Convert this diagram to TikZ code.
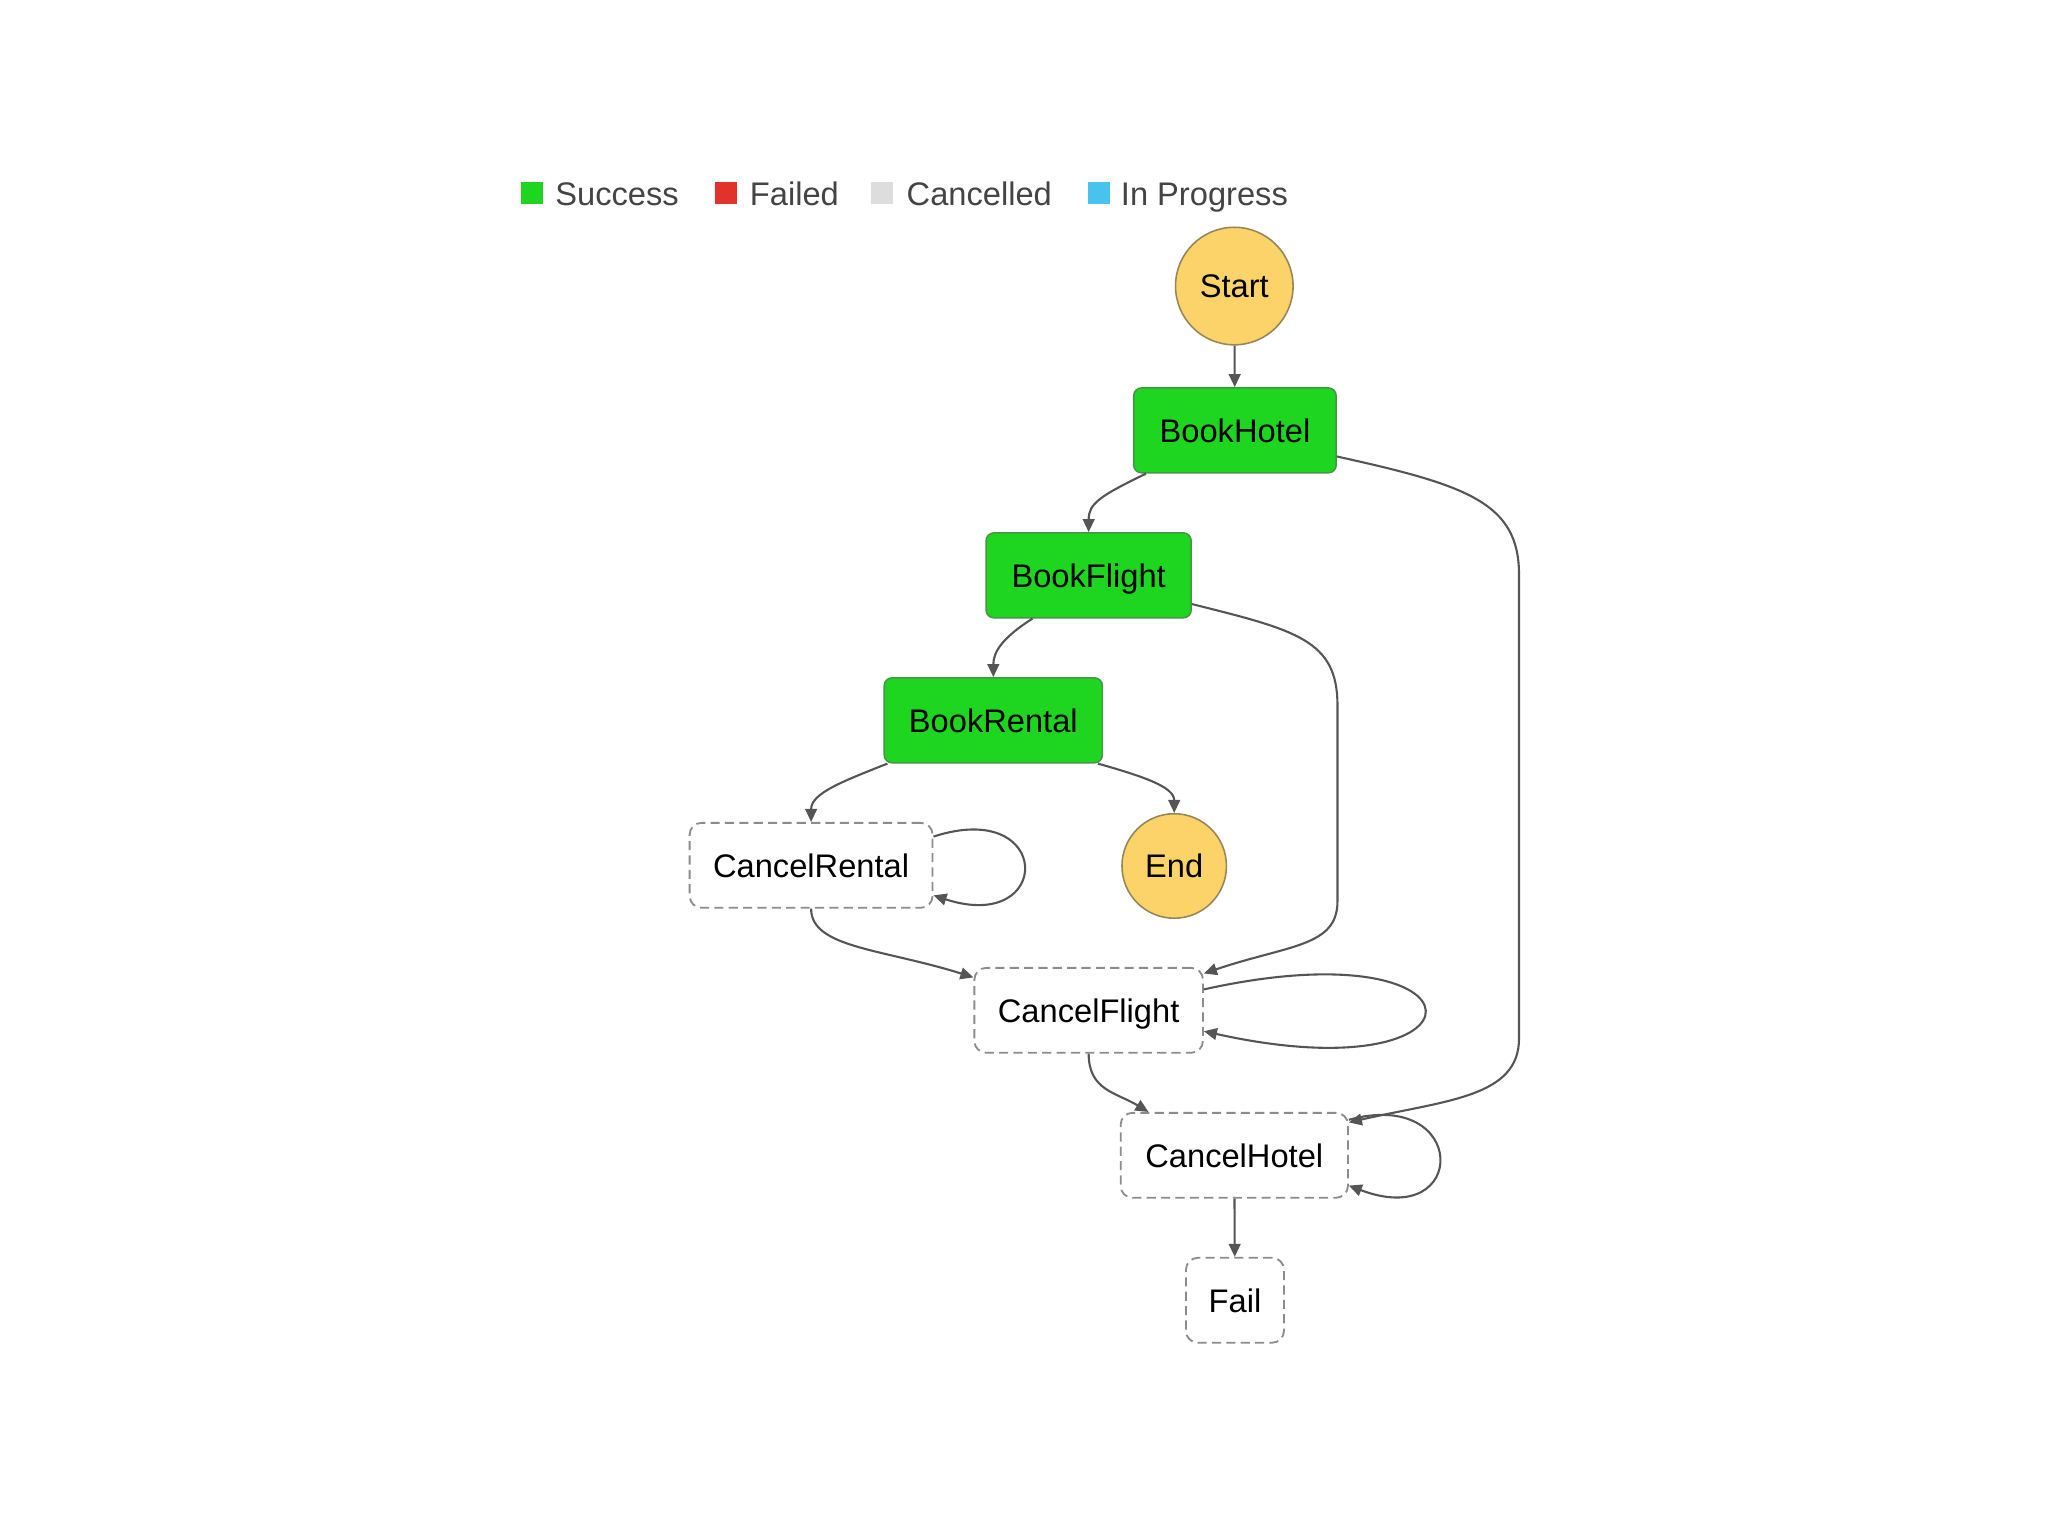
\documentclass[tikz,border=0pt]{standalone}
\usepackage{fontspec}
\setmainfont{Liberation Sans}
\usetikzlibrary{arrows.meta,calc}
\definecolor{okgreen}{RGB}{30,214,32}
\definecolor{okborder}{RGB}{70,150,70}
\definecolor{startfill}{RGB}{252,211,104}
\definecolor{startborder}{RGB}{150,135,90}
\definecolor{failred}{RGB}{226,50,42}
\definecolor{cancgray}{RGB}{221,221,221}
\definecolor{progblue}{RGB}{72,195,238}
\definecolor{edgegray}{RGB}{85,85,85}
\definecolor{dashgray}{RGB}{140,140,140}
\definecolor{legtext}{RGB}{68,68,68}
\tikzset{
  txt/.style={font=\fontsize{25}{30}\selectfont, text=black, text height=23pt, text depth=5pt},
  circ/.style={circle, txt, fill=startfill, draw=startborder, line width=1.2pt, inner sep=0pt},
  okbox/.style={rectangle, rounded corners=6pt, txt, fill=okgreen, draw=okborder, line width=1.2pt, inner sep=0pt, minimum height=65pt},
  cbox/.style={rectangle, rounded corners=9pt, txt, fill=white, draw=dashgray, line width=1.4pt, dash pattern=on 7pt off 4pt, inner sep=0pt, minimum height=65pt},
  edge/.style={draw=edgegray, line width=1.6pt, -{Triangle[length=10pt,width=9pt]}},
  legsq/.style={rectangle, inner sep=0pt, minimum size=17pt},
  legtxt/.style={font=\fontsize{25}{30}\selectfont, text=legtext, anchor=base west, inner sep=0pt}
}
\begin{document}
\begin{tikzpicture}[x=1pt,y=-1pt]
\useasboundingbox (0,0) rectangle (1568,1176);
% legend
\node[legsq, fill=okgreen] (l1) at (407.5,148) {};
\node[legtxt] (t1) at (425,157) {Success};
\node[legsq, fill=failred] (l2) at (556,148) {};
\node[legtxt] (t2) at (574,157) {Failed};
\node[legsq, fill=cancgray] (l3) at (675,148) {};
\node[legtxt] (t3) at (694,157) {Cancelled};
\node[legsq, fill=progblue] (l4) at (841.5,148) {};
\node[legtxt] (t4) at (858,157) {In Progress};
% nodes
\node[circ, minimum size=90pt] (start) at (945,219) {Start};
\node[okbox, minimum width=155pt] (bh) at (945.5,329.5) {BookHotel};
\node[okbox, minimum width=157pt] (bf) at (833.5,440.5) {BookFlight};
\node[okbox, minimum width=167pt] (br) at (760.5,551.5) {BookRental};
\node[cbox, minimum width=186pt] (cr) at (621,662.5) {CancelRental};
\node[circ, minimum size=80pt] (end) at (899,663) {End};
\node[cbox, minimum width=175pt] (cf) at (833.5,773.5) {CancelFlight};
\node[cbox, minimum width=174pt] (ch) at (945,884.5) {CancelHotel};
\node[cbox, minimum width=75pt] (fail) at (945.5,995.5) {Fail};
% waypoints
\coordinate (h1) at (1163,440);
\coordinate (h2) at (1163,795);
\coordinate (f1) at (1024,540);
\coordinate (f2) at (1024,690);
% edges
\draw[edge] (start) -- (bh);
\draw[edge] ([xshift=10pt]bh.south west) .. controls +(-35,17) and +(0,-22) .. (bf.north);
\draw[edge] ([yshift=-20pt]bh.east) .. controls +(100,22) and +(0,-55) .. (h1) -- (h2) .. controls +(0,45) and +(75,-17) .. ([yshift=-8pt]ch.north east);
\draw[edge] ([xshift=-43pt]bf.south) .. controls +(-22,14) and +(0,-20) .. (br.north);
\draw[edge] ([yshift=-22pt]bf.east) .. controls +(80,20) and +(0,-50) .. (f1) -- (f2) .. controls +(0,35) and +(65,-22) .. ([yshift=-5pt]cf.north east);
\draw[edge] ([xshift=3pt]br.south west) .. controls +(-35,14) and +(0,-22) .. (cr.north);
\draw[edge] ([xshift=-4pt]br.south east) .. controls +(35,10) and +(0,-20) .. (end.north);
\draw[edge] ([yshift=22pt]cr.east) .. controls +(92,-30) and +(92,30) .. ([yshift=-23pt]cr.east);
\draw[edge] (cr.south) .. controls +(0,30) and +(-70,-22) .. ([yshift=-8pt]cf.north west);
\draw[edge] ([yshift=16pt]cf.east) .. controls +(225,-50) and +(225,50) .. ([yshift=-16pt]cf.east);
\draw[edge] (cf.south) .. controls +(0,28) and +(-25,-15) .. ([xshift=22pt]ch.north west);
\draw[edge] ([yshift=-6pt]ch.north east) .. controls +(92,-25) and +(92,35) .. ([yshift=10pt]ch.south east);
\draw[edge] (ch) -- (fail);
\end{tikzpicture}
\end{document}
